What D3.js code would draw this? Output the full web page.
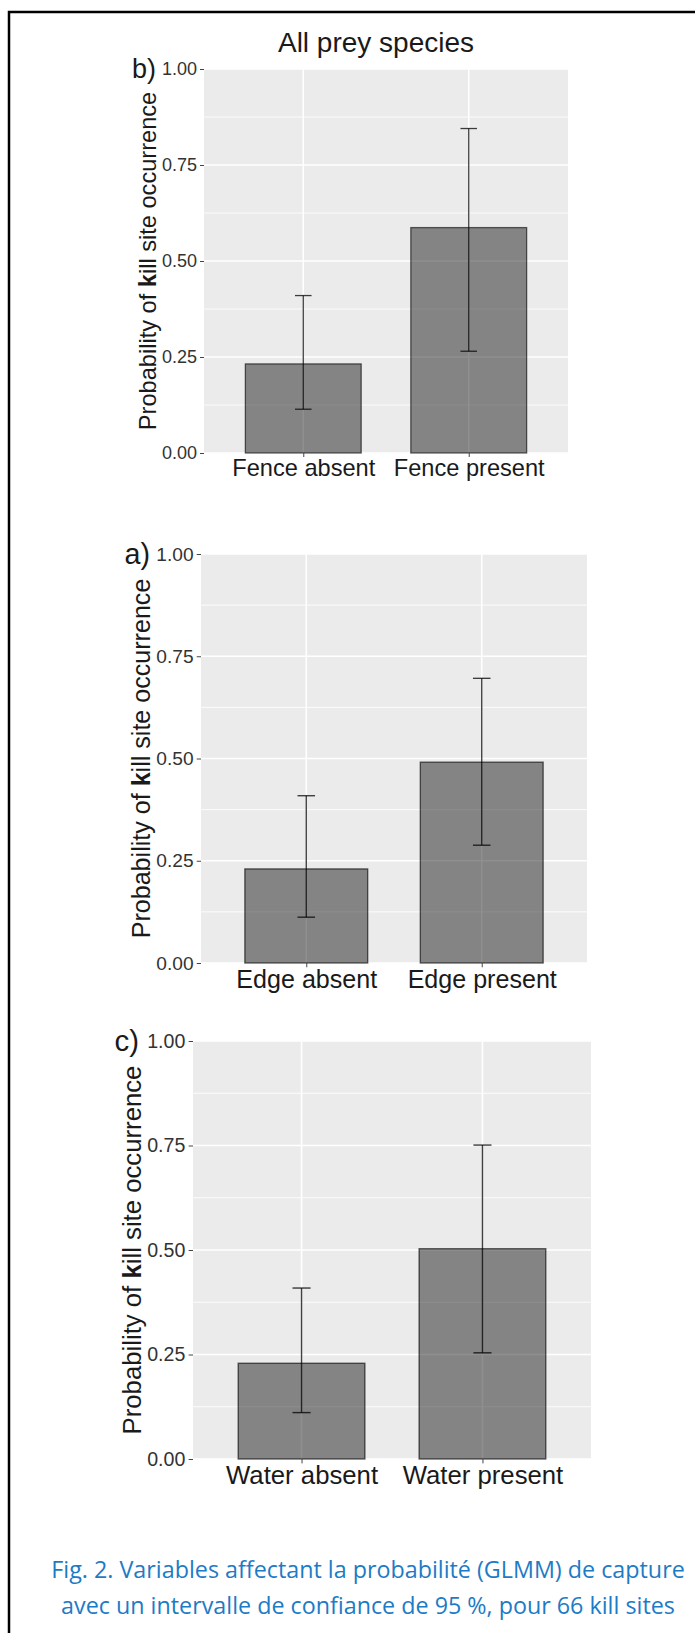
<!DOCTYPE html>
<html>
<head>
<meta charset="utf-8">
<script src="https://cdn.jsdelivr.net/npm/d3@7"></script>
<style>
  body { margin: 0; background: #fff; }
  text { font-family: "Liberation Sans", Arial, sans-serif; }
</style>
</head>
<body>
<div id="chart"></div>
<script>
// values
var panelLabels = ["b)", "a)", "c)"]
var categories = [
    ["Fence absent", "Fence present"],
    ["Edge absent", "Edge present"],
    ["Water absent", "Water present"]
]
var estimates = [[0.232, 0.587], [0.230, 0.491], [0.229, 0.503]]
var lower = [[0.114, 0.265], [0.112, 0.288], [0.111, 0.254]]
var upper = [[0.410, 0.845], [0.409, 0.696], [0.409, 0.751]]
var yTicks = [0, 0.25, 0.5, 0.75, 1]
var yMinor = [0.125, 0.375, 0.625, 0.875]
var title = "All prey species"
var yTitle = ["Probability of ", "k", "ill site occurrence"]
var caption = [
    "Fig. 2. Variables affectant la probabilité (GLMM) de capture",
    "avec un intervalle de confiance de 95 %, pour 66 kill sites"
]

// each panel was pasted in at a slightly different size
var layout = [
    { left: 204, top: 69, width: 364, height: 384, s: 1 },
    { left: 201, top: 554, width: 386, height: 409, s: 1.063 },
    { left: 193, top: 1041, width: 398, height: 418, s: 1.09 }
]

var svg = d3.select("#chart").append("svg").attr("width", 695).attr("height", 1633)
svg.append("rect").attr("width", 695).attr("height", 1633).attr("fill", "#fff")
svg.append("rect").attr("x", 9).attr("y", 12).attr("width", 720).attr("height", 1660)
    .attr("fill", "none").attr("stroke", "#000").attr("stroke-width", 2.5)

svg.append("text").attr("x", 376).attr("y", 52).attr("text-anchor", "middle")
    .attr("font-size", 28).attr("fill", "#1a1a1a").text(title)

layout.forEach(function (L, i) {
    var s = L.s
    var g = svg.append("g")
    var x = d3.scalePoint().domain(categories[i]).range([L.left, L.left + L.width]).padding(0.6)
    var step = x.step()
    var y = d3.scaleLinear().domain([0, 1]).range([L.top + L.height, L.top])

    g.append("rect").attr("x", L.left).attr("y", L.top).attr("width", L.width).attr("height", L.height)
        .attr("fill", "#ebebeb")

    g.selectAll(".minor").data(yMinor).enter().append("line")
        .attr("x1", L.left).attr("x2", L.left + L.width)
        .attr("y1", function (d) { return y(d) }).attr("y2", function (d) { return y(d) })
        .attr("stroke", "#fff").attr("stroke-width", 0.8 * s)
    g.selectAll(".major").data(yTicks).enter().append("line")
        .attr("x1", L.left).attr("x2", L.left + L.width)
        .attr("y1", function (d) { return y(d) }).attr("y2", function (d) { return y(d) })
        .attr("stroke", "#fff").attr("stroke-width", 1.5 * s)
    g.selectAll(".vgrid").data(categories[i]).enter().append("line")
        .attr("x1", function (d) { return x(d) }).attr("x2", function (d) { return x(d) })
        .attr("y1", L.top).attr("y2", L.top + L.height)
        .attr("stroke", "#fff").attr("stroke-width", 1.5 * s)

    var rows = categories[i].map(function (c, j) {
        return { cat: c, est: estimates[i][j], lo: lower[i][j], hi: upper[i][j] }
    })

    g.selectAll(".bar").data(rows).enter().append("rect")
        .attr("x", function (d) { return x(d.cat) - 0.35 * step })
        .attr("width", 0.7 * step)
        .attr("y", function (d) { return y(d.est) })
        .attr("height", function (d) { return y(0) - y(d.est) })
        .attr("fill", "#000").attr("fill-opacity", 0.44)
        .attr("stroke", "#000").attr("stroke-opacity", 0.6).attr("stroke-width", 1.3 * s)

    var eb = g.selectAll(".err").data(rows).enter().append("g")
    eb.append("line")
        .attr("x1", function (d) { return x(d.cat) }).attr("x2", function (d) { return x(d.cat) })
        .attr("y1", function (d) { return y(d.lo) }).attr("y2", function (d) { return y(d.hi) })
    eb.append("line")
        .attr("x1", function (d) { return x(d.cat) - 0.05 * step }).attr("x2", function (d) { return x(d.cat) + 0.05 * step })
        .attr("y1", function (d) { return y(d.hi) }).attr("y2", function (d) { return y(d.hi) })
    eb.append("line")
        .attr("x1", function (d) { return x(d.cat) - 0.05 * step }).attr("x2", function (d) { return x(d.cat) + 0.05 * step })
        .attr("y1", function (d) { return y(d.lo) }).attr("y2", function (d) { return y(d.lo) })
    eb.selectAll("line").attr("stroke", "#000").attr("stroke-opacity", 0.75).attr("stroke-width", 1.3 * s)

    var ya = g.append("g").attr("transform", "translate(" + L.left + ",0)")
        .call(d3.axisLeft(y).tickValues(yTicks).tickFormat(d3.format(".2f")).tickSize(4 * s).tickPadding(3 * s))
    ya.select(".domain").remove()
    ya.selectAll("line").attr("stroke", "#444")
    ya.selectAll("text").attr("font-size", 18 * s).attr("fill", "#333").style("font-family", "Liberation Sans, Arial, sans-serif")

    var xa = g.append("g").attr("transform", "translate(0," + (L.top + L.height) + ")")
        .call(d3.axisBottom(x).tickSize(4 * s).tickPadding(2.5 * s))
    xa.select(".domain").remove()
    xa.selectAll("line").attr("stroke", "#444")
    xa.selectAll("text").attr("font-size", 23.6 * s).attr("fill", "#1a1a1a").style("font-family", "Liberation Sans, Arial, sans-serif")

    var yt = g.append("text")
        .attr("transform", "translate(" + (L.left - 48 * s) + "," + (L.top + L.height / 2) + ") rotate(-90)")
        .attr("text-anchor", "middle").attr("font-size", 23.6 * s).attr("fill", "#1a1a1a")
    yt.selectAll("tspan").data(yTitle).enter().append("tspan")
        .attr("font-weight", function (d) { return d == "k" ? "bold" : "normal" })
        .text(function (d) { return d })

    g.append("text").attr("x", L.left - 72 * s).attr("y", L.top + 9 * s)
        .attr("font-size", 27 * s).attr("fill", "#1a1a1a").text(panelLabels[i])
})

svg.selectAll(".caption").data(caption).enter().append("text")
    .attr("x", 368).attr("y", function (d, k) { return 1578 + k * 36 })
    .attr("text-anchor", "middle").attr("font-size", 23.3).attr("fill", "#1d7bc6")
    .style("font-family", "'Open Sans', 'Noto Sans', sans-serif")
    .text(function (d) { return d })
</script>
</body>
</html>
